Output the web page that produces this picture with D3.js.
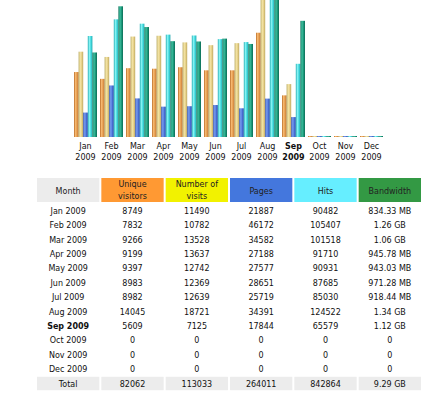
<!DOCTYPE html>
<html>
<head>
<meta charset="utf-8">
<script src="https://cdn.jsdelivr.net/npm/d3@7"></script>
<style>
  body { margin: 0; background: #fff; }
  svg text { font-family: "DejaVu Sans", Verdana, sans-serif; font-size: 8px; fill: #111; }
</style>
</head>
<body>
<div id="chart"></div>
<script>
// data
var months = ['Jan', 'Feb', 'Mar', 'Apr', 'May', 'Jun', 'Jul', 'Aug', 'Sep', 'Oct', 'Nov', 'Dec'];
var year = '2009';
var current = 'Sep';
var unique = [8749, 7832, 9266, 9199, 9397, 8983, 8982, 14045, 5609, 0, 0, 0];
var visits = [11490, 10782, 13528, 13637, 12742, 12369, 12639, 18721, 7125, 0, 0, 0];
var pages = [21887, 46172, 34582, 27188, 27577, 28651, 25719, 34391, 17844, 0, 0, 0];
var hits = [90482, 105407, 101518, 91710, 90931, 87685, 85030, 124522, 65579, 0, 0, 0];
var bandwidthMB = [834.33, 1290.24, 1085.44, 945.78, 943.03, 971.28, 918.44, 1372.16, 1146.88, 0, 0, 0];
var bandwidthText = ['834.33 MB', '1.26 GB', '1.06 GB', '945.78 MB', '943.03 MB', '971.28 MB', '918.44 MB', '1.34 GB', '1.12 GB', '0', '0', '0'];
var totals = ['82062', '113033', '264011', '842864', '9.29 GB'];
var headers = [['Month'], ['Unique', 'visitors'], ['Number of', 'visits'], ['Pages'], ['Hits'], ['Bandwidth']];

var svgWidth = 432;
var svgHeight = 395;

var svg = d3.select('#chart')
  .append('svg')
  .attr('width', svgWidth)
  .attr('height', svgHeight);

// bar gradients
var series = [
  { key: 'u', values: unique, scale: 'v', colors: ['#b86c28', '#f6b870', '#e49a4c', '#b87030'] },
  { key: 'v', values: visits, scale: 'v', colors: ['#b8a860', '#f4e6a8', '#e6d088', '#bca860'] },
  { key: 'p', values: pages, scale: 'h', colors: ['#2a48a8', '#7aa0f0', '#4a70d8', '#2c4aa8'] },
  { key: 'h', values: hits, scale: 'h', colors: ['#20a8b0', '#8af4f4', '#44dce0', '#22a8b0'] },
  { key: 'k', values: bandwidthMB, scale: 'k', colors: ['#0c6e58', '#40c0a0', '#1c9a7c', '#0c6a54'] }
];

var defs = svg.append('defs');
series.forEach(function(s) {
  var g = defs.append('linearGradient')
    .attr('id', 'grad-' + s.key)
    .attr('x1', 0).attr('x2', 1).attr('y1', 0).attr('y2', 0);
  g.selectAll('stop')
    .data(s.colors)
    .enter()
    .append('stop')
    .attr('offset', (d, i) => i / (s.colors.length - 1))
    .attr('stop-color', d => d);
});

// scales
var baseY = 137;
var x = d3.scaleBand()
  .domain(months)
  .range([72.5, 384.5])
  .paddingInner(3 / 26)
  .paddingOuter(1.5 / 26);

var xInner = d3.scaleBand()
  .domain(series.map(s => s.key))
  .range([0, x.bandwidth()]);

var yScales = {
  v: d3.scaleLinear().domain([0, d3.max(visits)]).range([baseY, -2]),
  h: d3.scaleLinear().domain([0, d3.max(hits)]).range([baseY, -2]),
  k: d3.scaleLinear().domain([0, d3.max(bandwidthMB)]).range([baseY, -2])
};

var groups = svg.selectAll('g.month')
  .data(months)
  .enter()
  .append('g')
  .attr('class', 'month')
  .attr('transform', d => `translate(${x(d)},0)`);

groups.each(function(m, i) {
  var g = d3.select(this);
  series.forEach(function(s) {
    var y = yScales[s.scale];
    var top = Math.min(y(s.values[i]), baseY - 1);
    g.append('rect')
      .attr('x', xInner(s.key))
      .attr('y', top)
      .attr('width', xInner.bandwidth())
      .attr('height', baseY - top)
      .attr('fill', 'url(#grad-' + s.key + ')');
  });
  g.append('text')
    .attr('x', x.bandwidth() / 2)
    .attr('y', 149)
    .attr('text-anchor', 'middle')
    .style('font-weight', m == current ? 'bold' : null)
    .text(m);
  g.append('text')
    .attr('x', x.bandwidth() / 2)
    .attr('y', 159.5)
    .attr('text-anchor', 'middle')
    .style('font-weight', m == current ? 'bold' : null)
    .text(year);
});

// table
var colX = d3.scaleBand()
  .domain(d3.range(6))
  .range([37, 421])
  .paddingInner(2 / 64);
var headColors = ['#ececec', '#ff9933', '#f2f200', '#4477dd', '#66eeff', '#339944'];
var headTop = 178, headH = 24;

var head = svg.append('g');
headers.forEach(function(lines, c) {
  head.append('rect')
    .attr('x', colX(c))
    .attr('y', headTop)
    .attr('width', colX.bandwidth())
    .attr('height', headH)
    .attr('fill', headColors[c]);
  lines.forEach(function(t, j) {
    head.append('text')
      .attr('x', colX(c) + colX.bandwidth() / 2)
      .attr('y', lines.length == 1 ? 193.5 : 187 + j * 11.5)
      .attr('text-anchor', 'middle')
      .style('fill', '#222')
      .text(t);
  });
});

var rowY = d3.scaleLinear().domain([0, 1]).range([210.7, 225.1]);

var rows = months.map(function(m, i) {
  return [m + ' ' + year, unique[i], visits[i], pages[i], hits[i], bandwidthText[i]];
});

rows.forEach(function(r, i) {
  r.forEach(function(v, c) {
    svg.append('text')
      .attr('x', colX(c) + colX.bandwidth() / 2)
      .attr('y', rowY(i) + 3)
      .attr('text-anchor', 'middle')
      .style('font-weight', months[i] == current && c == 0 ? 'bold' : null)
      .text(v);
  });
});

// total row
var totalY = rowY(12);
['Total'].concat(totals).forEach(function(v, c) {
  svg.append('rect')
    .attr('x', colX(c))
    .attr('y', totalY - 6.7)
    .attr('width', colX.bandwidth())
    .attr('height', 13.4)
    .attr('fill', '#ececec');
  svg.append('text')
    .attr('x', colX(c) + colX.bandwidth() / 2)
    .attr('y', totalY + 3)
    .attr('text-anchor', 'middle')
    .text(v);
});
</script>
</body>
</html>
